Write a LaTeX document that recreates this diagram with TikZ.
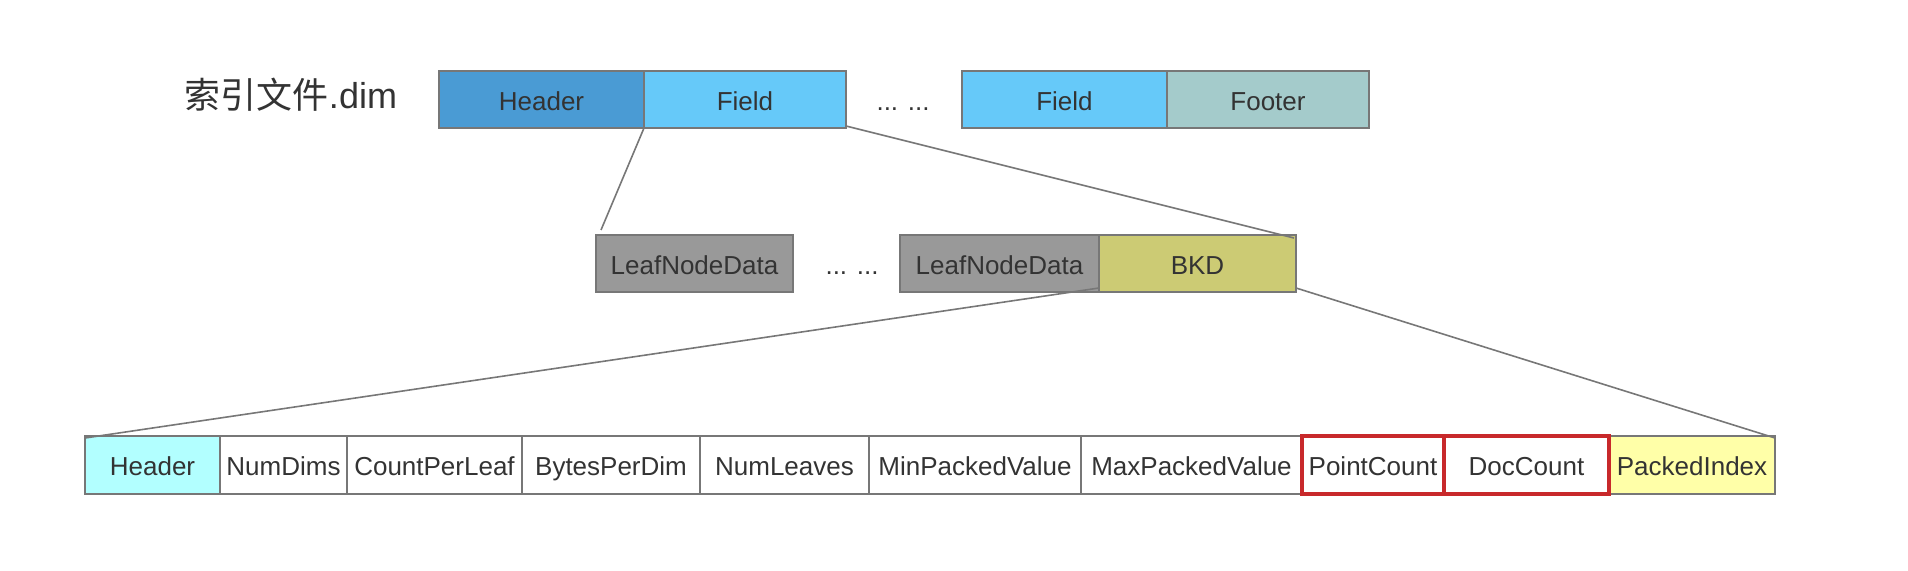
\documentclass[tikz,border=0pt]{standalone}
\usepackage{fontspec}
\setmainfont{Liberation Sans}
\newfontfamily\cjk{Noto Sans CJK SC}
\definecolor{bordergray}{HTML}{777777}
\definecolor{txt}{HTML}{333333}
\definecolor{hdrblue}{HTML}{4A9BD4}
\definecolor{fieldblue}{HTML}{66C9F9}
\definecolor{footer}{HTML}{A4CBCB}
\definecolor{leafgray}{HTML}{999999}
\definecolor{bkd}{HTML}{CCCB74}
\definecolor{cyanhdr}{HTML}{B2FFFF}
\definecolor{pyellow}{HTML}{FFFFA8}
\definecolor{redbox}{HTML}{C8292B}
\begin{document}
\begin{tikzpicture}[x=1pt,y=-1pt,
  cell/.style={draw=bordergray, line width=2pt, inner sep=0pt, outer sep=0pt,
    text=txt, font=\fontsize{26}{30}\selectfont, text height=21pt, text depth=0pt},
  redcell/.style={cell, draw=redbox, line width=4pt},
  conn/.style={draw=bordergray, line width=1.6pt},
  dots/.style={text=txt, font=\fontsize{26}{30}\selectfont, inner sep=0pt, text height=21pt, text depth=0pt}]
\useasboundingbox (0,0) rectangle (1908,570);
% title
\node[text=txt, font=\fontsize{36}{40}\selectfont] (title) at (291,95) {{\cjk 索引文件}.dim};
% row 1
\node[cell, fill=hdrblue, minimum width=205pt, minimum height=57pt] (h1) at (541.5,99.5) {Header};
\node[cell, fill=fieldblue, minimum width=202pt, minimum height=57pt] (f1) at (745,99.5) {Field};
\node[dots] (d1) at (903,99.5) {... ...};
\node[cell, fill=fieldblue, minimum width=205pt, minimum height=57pt] (f2) at (1064.5,99.5) {Field};
\node[cell, fill=footer, minimum width=202pt, minimum height=57pt] (ft) at (1268,99.5) {Footer};
% row 2
\node[cell, fill=leafgray, minimum width=197pt, minimum height=57pt] (l1) at (694.5,263.5) {LeafNodeData};
\node[dots] (d2) at (852,263.5) {... ...};
\node[cell, fill=leafgray, minimum width=199pt, minimum height=57pt] (l2) at (999.5,263.5) {LeafNodeData};
\node[cell, fill=bkd, minimum width=197pt, minimum height=57pt] (bkd) at (1197.5,263.5) {BKD};
% row 3
\node[cell, fill=cyanhdr, minimum width=135pt, minimum height=58pt] (c1) at (152.5,465) {Header};
\node[cell, fill=white, minimum width=127pt, minimum height=58pt] (c2) at (283.5,465) {NumDims};
\node[cell, fill=white, minimum width=175pt, minimum height=58pt] (c3) at (434.5,465) {CountPerLeaf};
\node[cell, fill=white, minimum width=178pt, minimum height=58pt] (c4) at (611,465) {BytesPerDim};
\node[cell, fill=white, minimum width=169pt, minimum height=58pt] (c5) at (784.5,465) {NumLeaves};
\node[cell, fill=white, minimum width=212pt, minimum height=58pt] (c6) at (975,465) {MinPackedValue};
\node[cell, fill=white, minimum width=221pt, minimum height=58pt] (c7) at (1191.5,465) {MaxPackedValue};
\node[cell, fill=pyellow, minimum width=166pt, minimum height=58pt] (c10) at (1692,465) {PackedIndex};
\node[redcell, fill=white, minimum width=142pt, minimum height=58pt] (c8) at (1373,465) {PointCount};
\node[redcell, fill=white, minimum width=165pt, minimum height=58pt] (c9) at (1526.5,465) {DocCount};
% connectors
\coordinate (e1) at (601,230);
\draw[conn] (f1.south west) -- (e1);
\draw[conn] ([yshift=2pt]f1.south east) -- ([shift={(-2pt,-3pt)}]bkd.north east);
\draw[conn] ([yshift=4pt]bkd.south west) -- ([yshift=-2pt]c1.north west);
\draw[conn] ([yshift=4pt]bkd.south east) -- ([yshift=-2pt]c10.north east);
\end{tikzpicture}
\end{document}
